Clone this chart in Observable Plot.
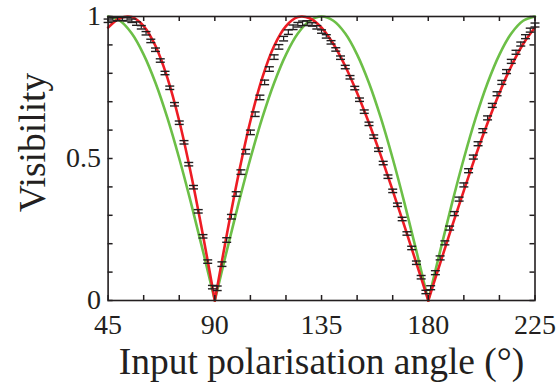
<!DOCTYPE html>
<html><head><meta charset="utf-8">
<script src="https://cdn.jsdelivr.net/npm/d3@7"></script>
<script src="https://cdn.jsdelivr.net/npm/@observablehq/plot@0.6"></script>
<style>html,body{margin:0;padding:0;background:#fff}</style>
</head><body><div id="chart"></div>
<script>
// ---- data ----
const curveAngles = [45,50,55,60,65,70,75,80,85,90,95,100,105,110,115,120,125,130,135,140,145,150,155,160,165,170,175,180,185,190,195,200,205,210,215,220,225];
const greenValues = [1,0.985,0.94,0.866,0.766,0.643,0.5,0.342,0.174,0,0.174,0.342,0.5,0.643,0.766,0.866,0.94,0.985,1,0.985,0.94,0.866,0.766,0.643,0.5,0.342,0.174,0,0.174,0.342,0.5,0.643,0.766,0.866,0.94,0.985,1];
const redValues = [0.961,0.994,0.998,0.966,0.896,0.784,0.632,0.444,0.230,0,0.230,0.444,0.632,0.784,0.896,0.966,0.998,0.994,0.961,0.903,0.825,0.731,0.625,0.510,0.387,0.261,0.131,0,0.131,0.261,0.387,0.510,0.625,0.731,0.825,0.903,0.961];
const dataAngles = [45,47,49,51,53,55,57,59,61,63,65,67,69,71,73,75,77,79,81,83,85,87,89,91,93,95,97,99,101,103,105,107,109,111,113,115,117,119,121,123,125,127,129,131,133,135,137,139,141,143,145,147,149,151,153,155,157,159,161,163,165,167,169,171,173,175,177,179,181,183,185,187,189,191,193,195,197,199,201,203,205,207,209,211,213,215,217,219,221,223,225];
const dataValues = [0.985,0.990,0.991,0.992,0.990,0.985,0.975,0.962,0.941,0.914,0.883,0.845,0.801,0.749,0.691,0.626,0.557,0.480,0.399,0.314,0.226,0.137,0.047,
0.043,0.128,0.213,0.295,0.375,0.452,0.524,0.592,0.656,0.715,0.768,0.815,0.857,0.893,0.922,0.945,0.962,0.971,0.976,0.977,
0.972,0.962,0.947,0.930,0.909,0.884,0.855,0.822,0.786,0.748,0.707,0.665,0.622,0.577,0.531,0.484,0.436,0.386,0.337,0.287,0.236,0.185,0.133,0.082,0.030,
0.045,0.098,0.150,0.203,0.255,0.306,0.357,0.407,0.457,0.505,0.552,0.598,0.643,0.687,0.728,0.768,0.806,0.842,0.874,0.903,0.929,0.952,0.970];
const dataErrors = [0.006,0.006,0.006,0.006,0.006,0.006,0.006,0.006,0.006,0.006,0.006,0.006,0.006,0.006,0.006,0.006,0.006,0.006,0.006,0.006,0.006,0.006,0.006,
0.008,0.008,0.008,0.008,0.008,0.008,0.008,0.008,0.008,0.008,0.008,0.008,0.008,0.008,0.008,0.008,0.008,0.008,0.008,0.008,
0.006,0.006,0.006,0.006,0.006,0.006,0.006,0.006,0.006,0.006,0.006,0.006,0.006,0.006,0.006,0.006,0.006,0.006,0.006,0.006,0.006,0.006,0.006,0.006,0.006,
0.007,0.007,0.007,0.007,0.007,0.007,0.007,0.007,0.007,0.007,0.007,0.007,0.007,0.007,0.007,0.007,0.007,0.007,0.007,0.007,0.007,0.007,0.007];
const xTickLabels = [45,90,135,180,225];
const yTickLabels = [0,0.5,1];
const xMinorTicks = [45,60,75,90,105,120,135,150,165,180,195,210,225];
const yMinorTicks = [0,0.1,0.2,0.3,0.4,0.5,0.6,0.7,0.8,0.9,1];
const xTitle = "Input polarisation angle (°)";
const yTitle = "Visibility";

// split a curve into lobes at its interior zeros (cusps)
function lobes(angles, values) {
  const rows = []; let lobe = 0;
  angles.forEach((a, i) => {
    rows.push({a, v: values[i], lobe});
    if (values[i] === 0 && i > 0 && i < angles.length - 1) { lobe++; rows.push({a, v: values[i], lobe}); }
  });
  return rows;
}
const greenRows = lobes(curveAngles, greenValues);
const redRows = lobes(curveAngles, redValues);
const points = dataAngles.map((a, i) => ({a, v: dataValues[i], e: dataErrors[i]}));

const W = 557, H = 383, mL = 107.6, mR = 22.5, mT = 16, mB = 83;
const pw = W - mL - mR, ph = H - mT - mB, tk = 5;
const capSymbol = {draw(ctx, size) { const w = Math.sqrt(size / Math.PI); ctx.moveTo(-w, 0); ctx.lineTo(w, 0); }};
const serif = "'Liberation Serif','Times New Roman',Times,serif";

const chart = Plot.plot({
  width: W, height: H,
  marginLeft: mL, marginRight: mR, marginTop: mT, marginBottom: mB,
  x: {domain: [45, 225]},
  y: {domain: [0, 1]},
  style: {fontFamily: serif, background: "white", color: "#231f20"},
  marks: [
    Plot.line(greenRows, {x: "a", y: "v", z: "lobe", stroke: "#6cbf47", strokeWidth: 2.6, curve: "catmull-rom"}),
    Plot.line(redRows, {x: "a", y: "v", z: "lobe", stroke: "#ed1c24", strokeWidth: 2.6, curve: "catmull-rom"}),
    Plot.ruleX(points, {x: "a", y1: d => d.v - d.e, y2: d => d.v + d.e, stroke: "#231f20", strokeWidth: 1.2}),
    Plot.dot(points, {x: "a", y: d => d.v + d.e, symbol: capSymbol, r: 4.5, stroke: "#231f20", strokeWidth: 1.4, fill: "none"}),
    Plot.dot(points, {x: "a", y: d => d.v - d.e, symbol: capSymbol, r: 4.5, stroke: "#231f20", strokeWidth: 1.4, fill: "none"}),
    Plot.tickX(xMinorTicks, {x: d => d, insetTop: ph - tk, stroke: "#231f20", strokeWidth: 1.5}),
    Plot.tickX(xMinorTicks, {x: d => d, insetBottom: ph - tk, stroke: "#231f20", strokeWidth: 1.5}),
    Plot.tickY(yMinorTicks, {y: d => d, insetRight: pw - tk, stroke: "#231f20", strokeWidth: 1.5}),
    Plot.tickY(yMinorTicks, {y: d => d, insetLeft: pw - tk, stroke: "#231f20", strokeWidth: 1.5}),
    Plot.frame({stroke: "#231f20", strokeWidth: 1.6}),
    Plot.axisX(xTickLabels, {anchor: "bottom", tickSize: 0, tickPadding: 14, fontSize: 28, tickFormat: d => String(d), label: null}),
    Plot.axisY(yTickLabels, {anchor: "left", tickSize: 0, tickPadding: 7, fontSize: 28, tickFormat: d => String(d), label: null}),
    Plot.text([xTitle], {text: d => d, frameAnchor: "bottom", textAnchor: "middle", lineAnchor: "middle", dy: 61, fontSize: 37.5, fill: "#231f20"}),
    Plot.text([yTitle], {text: d => d, frameAnchor: "left", textAnchor: "middle", lineAnchor: "middle", rotate: -90, dx: -75, dy: -16, fontSize: 37.5, fill: "#231f20"})
  ]
});
document.getElementById("chart").appendChild(chart);
</script>
</body></html>
